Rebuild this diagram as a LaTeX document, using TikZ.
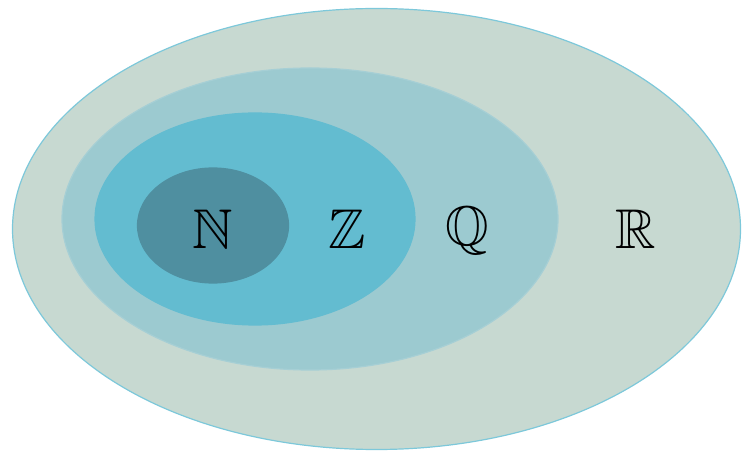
\documentclass[tikz,border=0pt]{standalone}
\usepackage{amssymb}
\usepackage{tikz}

\definecolor{realfill}{HTML}{C7D9D1}
\definecolor{ratfill}{HTML}{9CCAD0}
\definecolor{intfill}{HTML}{63BCD0}
\definecolor{natfill}{HTML}{4F8FA0}
\definecolor{rimblue}{HTML}{7DC8DA}

\begin{document}
\begin{tikzpicture}[x=1pt,y=1pt,
 set/.style={draw=rimblue,line width=1.2pt},
 lab/.style={inner sep=0pt,font=\fontsize{56}{66}\selectfont}]
\useasboundingbox (0,0) rectangle (743,452);
% nested sets
\filldraw[set,fill=realfill] (376.5,223) ellipse [x radius=364,y radius=220.5];
\filldraw[set,draw=ratfill!90!white,fill=ratfill] (310,233) ellipse [x radius=248,y radius=151];
\filldraw[set,draw=intfill,fill=intfill] (255,233) ellipse [x radius=160,y radius=106];
\filldraw[set,draw=natfill,fill=natfill] (213,226.5) ellipse [x radius=75.5,y radius=57.5];
% labels
\node[lab] (nat) at (213,223) {$\mathbb{N}$};
\node[lab] (int) at (347,223) {$\mathbb{Z}$};
\node[lab] (rat) at (467,221) {$\mathbb{Q}$};
\node[lab] (real) at (636,223) {$\mathbb{R}$};
\end{tikzpicture}
\end{document}
